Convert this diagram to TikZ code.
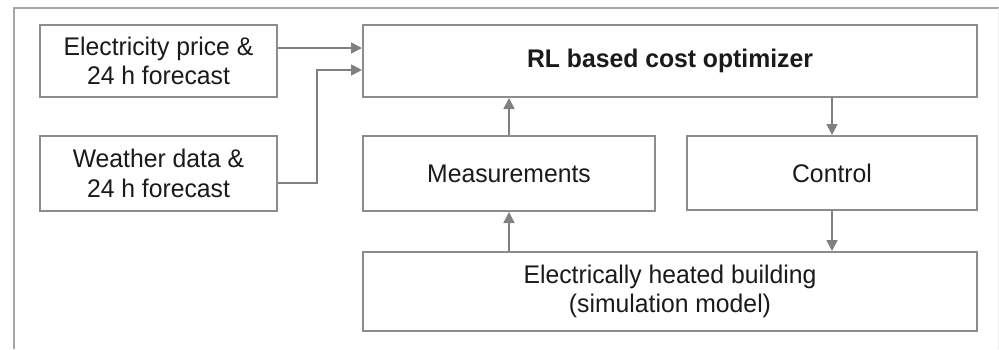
\documentclass[tikz,border=0pt]{standalone}
\usepackage{fontspec}
\setmainfont[FakeStretch=0.97]{Liberation Sans}
\usetikzlibrary{arrows.meta}
\definecolor{boxgray}{HTML}{8C8C8C}
\definecolor{arrgray}{HTML}{808080}
\definecolor{txt}{HTML}{1A1A1A}
\definecolor{framegray}{HTML}{A6A6A6}
\tikzset{
  x=1pt, y=-1pt,
  blk/.style={draw=boxgray, line width=2pt, fill=white, text=txt, inner sep=0pt, align=center,
    font=\fontsize{25.5}{29.5}\selectfont},
  conn/.style={draw=arrgray, line width=1.7pt, -{Triangle[length=11pt,width=11pt]}},
}
\begin{document}
\begin{tikzpicture}
\useasboundingbox (0,0) rectangle (999,349);
% frame
\draw[framegray, line width=1.5pt] (14,349) -- (14,8) -- (999,8);
\draw[black!8, line width=1pt] (998,8) -- (998,349);
% boxes
\node[blk, minimum width=237pt, minimum height=72pt] (elec) at (158.5,61) {Electricity price \&\\24 h forecast};
\node[blk, minimum width=237pt, minimum height=75pt] (weather) at (158.5,173.5) {Weather data \&\\24 h forecast};
\node[blk, minimum width=614pt, minimum height=72pt, font=\bfseries\fontsize{25.5}{29.5}\selectfont] (rl) at (670,61) {RL based cost optimizer};
\node[blk, minimum width=292pt, minimum height=75pt] (meas) at (509,173.5) {Measurements};
\node[blk, minimum width=290pt, minimum height=74pt] (ctrl) at (832,173) {Control};
\node[blk, minimum width=614pt, minimum height=79pt] (bldg) at (670,291.5) {Electrically heated building\\(simulation model)};
% connectors
\coordinate (wbend) at (317,183);
\draw[conn] (elec.east |- 0,48) -- (rl.west |- 0,48);
\draw[conn] (weather.east |- wbend) -- (wbend) -- (317,70) -- (rl.west |- 0,70);
\draw[conn] (meas.north -| 509,0) -- (rl.south -| 509,0);
\draw[conn] (bldg.north -| 509,0) -- (meas.south -| 509,0);
\draw[conn] (rl.south -| 832,0) -- (ctrl.north -| 832,0);
\draw[conn] (ctrl.south -| 832,0) -- (bldg.north -| 832,0);
\end{tikzpicture}
\end{document}
